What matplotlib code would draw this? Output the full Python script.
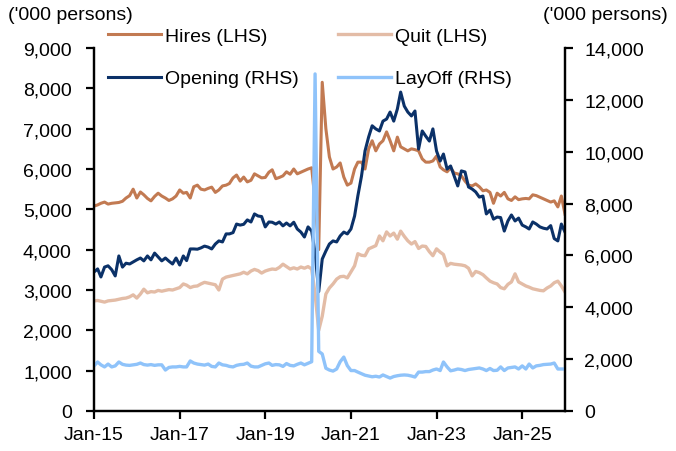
import matplotlib
matplotlib.use("Agg")
import matplotlib.pyplot as plt
import matplotlib.dates as mdates
import pandas as pd

# monthly JOLTS series, Jan-2015 .. Jan-2026 ('000 persons)
months = pd.date_range("2015-01-01", periods=133, freq="MS")
tick_dates = pd.to_datetime(["2015-01-01", "2017-01-01", "2019-01-01",
                             "2021-01-01", "2023-01-01", "2025-01-01"])

hires = [
    5080, 5110, 5150, 5180, 5130, 5150, 5160, 5170, 5200, 5280, 5340, 5500,
    5280, 5430, 5360, 5270, 5210, 5320, 5400, 5330, 5280, 5220, 5260, 5330,
    5480, 5400, 5420, 5280, 5560, 5600, 5500, 5480, 5520, 5550, 5420, 5480,
    5580, 5600, 5640, 5780, 5850, 5700, 5800, 5680, 5720, 5880, 5830, 5780,
    5790, 5920, 5980, 5760, 5790, 5830, 5930, 5870, 6000, 5880, 5920, 5960,
    6000, 6030, 5200, 4000, 8150, 7000, 6300, 6000, 6050, 6150, 5800, 5600,
    5650, 6000, 6170, 6170, 6000, 6500, 6700, 6450, 6620, 6700, 6920, 6700,
    6450, 6790, 6550, 6500, 6450, 6500, 6480, 6450, 6250, 6170, 6170, 6200,
    6320, 6050, 5980, 5930, 6030, 5900, 5880, 5830, 5700, 5600, 5580, 5630,
    5560, 5460, 5480, 5420, 5150, 5400, 5330, 5420, 5260, 5220, 5310, 5240,
    5260, 5270, 5260, 5360, 5340, 5300, 5260, 5220, 5180, 5210, 5060, 5330,
    4880,
]

quits = [
    2730, 2740, 2720, 2700, 2730, 2740, 2750, 2770, 2790, 2800, 2830, 2880,
    2800, 2900, 3020, 2930, 2960, 2950, 2990, 2970, 2990, 3010, 3000, 3030,
    3060, 3150, 3120, 3060, 3090, 3100, 3150, 3190, 3170, 3150, 3130, 3000,
    3270, 3320, 3340, 3360, 3380, 3400, 3440, 3400, 3470, 3510, 3480, 3420,
    3470, 3500, 3520, 3510, 3560, 3640, 3580, 3520, 3550, 3520, 3570, 3540,
    3580, 3520, 2900, 2000, 2350, 2900, 3050, 3150, 3270, 3330, 3340, 3300,
    3450, 3600, 3900, 3860, 3850, 4020, 4060, 4100, 4340, 4220, 4440, 4340,
    4410, 4260, 4460, 4330, 4220, 4140, 4200, 4030, 4090, 4080, 3950, 3850,
    4020, 3940, 3880, 3600, 3660, 3640, 3630, 3620, 3600, 3540, 3350, 3460,
    3430, 3380, 3300, 3220, 3180, 3150, 3060, 3030, 3140, 3200, 3400, 3200,
    3150, 3100, 3070, 3030, 3010, 2990, 2980, 3050, 3100, 3180, 3220, 3100,
    2950,
]

openings = [
    5360, 5480, 5170, 5550, 5600, 5450, 5210, 5980, 5550, 5700, 5670, 5750,
    5830, 5900, 5790, 5980, 5830, 6090, 5940, 5790, 5900, 5780, 5670, 5900,
    5630, 5980, 5800, 6250, 6250, 6240, 6290, 6360, 6320, 6250, 6440, 6560,
    6520, 6830, 6830, 6880, 7210, 7170, 7200, 7370, 7290, 7600, 7520, 7500,
    7100, 7290, 7280, 7210, 7290, 7140, 7250, 7140, 7280, 7020, 6900, 6710,
    7100, 6940, 6100, 4600, 5860, 6170, 6440, 6560, 6520, 6750, 6900, 6830,
    7020, 7520, 8300, 9060, 10030, 10570, 11000, 10880, 10800, 11180, 11260, 11530,
    11180, 11650, 12300, 11760, 11530, 11380, 11570, 10100, 10800, 10600, 10410, 10880,
    10030, 9640, 9910, 9330, 9450, 9060, 8680, 9260, 9220, 8640, 8560, 8450,
    8250, 8290, 7600, 7750, 7400, 7480, 7460, 6940, 7330, 7560, 7330, 7440,
    7170, 7100, 7020, 7290, 7210, 7100, 7050, 7020, 7150, 6650, 6560, 7210,
    6900,
]

layoffs = [
    1740, 1890, 1780, 1700, 1810, 1700, 1740, 1890, 1800, 1770, 1760, 1780,
    1800, 1850, 1790, 1770, 1790, 1760, 1780, 1780, 1580, 1680, 1700, 1700,
    1720, 1700, 1700, 1930, 1850, 1810, 1790, 1770, 1810, 1720, 1700, 1850,
    1780, 1760, 1720, 1700, 1760, 1790, 1800, 1850, 1730, 1700, 1700, 1760,
    1820, 1850, 1760, 1790, 1780, 1720, 1830, 1760, 1740, 1800, 1850, 1780,
    1840, 1900, 13000, 2300, 2200, 1650, 1580, 1540, 1620, 1900, 2080, 1750,
    1560, 1560, 1500, 1440, 1380, 1350, 1320, 1340, 1310, 1390, 1330, 1270,
    1330, 1360, 1380, 1390, 1380, 1350, 1310, 1500, 1500, 1520, 1520, 1580,
    1620, 1560, 1890, 1700, 1550, 1580, 1620, 1600, 1560, 1600, 1620, 1640,
    1660, 1620, 1560, 1640, 1560, 1570, 1700, 1560, 1660, 1680, 1700, 1620,
    1740, 1620, 1810, 1660, 1740, 1760, 1790, 1800, 1810, 1850, 1620, 1620,
    1620,
]

plt.rcParams["font.family"] = ["Liberation Sans", "DejaVu Sans"]
plt.rcParams["font.size"] = 14

fig = plt.figure(figsize=(6.76, 4.52), dpi=100)
ax = fig.add_axes([94 / 676, 40 / 452, 471 / 676, 363 / 452])
ax2 = ax.twinx()

c_hires, c_quit = "#C27A52", "#E3BCA6"
c_open, c_lay = "#0B3168", "#8FC3FA"

l1, = ax.plot(months, hires, color=c_hires, lw=2.2, label="Hires (LHS)")
l2, = ax.plot(months, quits, color=c_quit, lw=2.4, label="Quit (LHS)")
l3, = ax2.plot(months, openings, color=c_open, lw=2.2, label="Opening (RHS)")
l4, = ax2.plot(months, layoffs, color=c_lay, lw=2.4, label="LayOff (RHS)")

ax.set_xlim(months[0], months[-1])
ax.set_ylim(0, 9000)
ax2.set_ylim(0, 14000)
ax.set_yticks(range(0, 9001, 1000))
ax2.set_yticks(range(0, 14001, 2000))
ax.yaxis.set_major_formatter(matplotlib.ticker.StrMethodFormatter("{x:,.0f}"))
ax2.yaxis.set_major_formatter(matplotlib.ticker.StrMethodFormatter("{x:,.0f}"))

ax.set_xticks(tick_dates)
ax.xaxis.set_major_formatter(mdates.DateFormatter("%b-%y"))

for a in (ax, ax2):
    a.spines["top"].set_visible(False)
    for s in ("left", "right", "bottom"):
        a.spines[s].set_linewidth(1.6)
    a.tick_params(width=1.6, length=6, direction="out")
ax.tick_params(axis="y", pad=10)
ax2.tick_params(axis="y", pad=8)
ax.tick_params(axis="x", pad=5)

fig.text(8 / 676, 1 - 16 / 452, "('000 persons)", ha="left", va="center")
fig.text(668 / 676, 1 - 16 / 452, "('000 persons)", ha="right", va="center")

# row-wise order: Hires, Quit / Opening, LayOff
fig.legend(handles=[l1, l3, l2, l4], ncol=2, loc="upper left",
           bbox_to_anchor=(108 / 676, 1 - 28 / 452), frameon=False,
           borderpad=0, borderaxespad=0, handlelength=2.7,
           handletextpad=0.25, columnspacing=2.0, labelspacing=1.3)

fig.savefig("out.png", dpi=100)
